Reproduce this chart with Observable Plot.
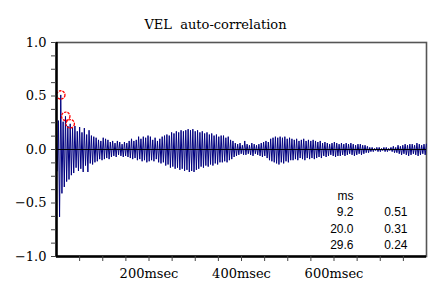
<!DOCTYPE html>
<html><head><meta charset="utf-8">
<script src="https://cdn.jsdelivr.net/npm/d3@7"></script>
<script src="https://cdn.jsdelivr.net/npm/@observablehq/plot@0.6"></script>
<style>
html,body{margin:0;padding:0;background:#fff;}
svg text{white-space:pre;}
</style></head><body><div id="chart"></div>
<script>
// Auto-correlation extrema: one trough and one peak per cycle
const troughs = [
  -0.20, -0.63, -0.41, -0.35, -0.30, -0.28, -0.24, -0.22, -0.17, -0.20,
  -0.18, -0.21, -0.15, -0.21, -0.13, -0.14, -0.12, -0.11, -0.09, -0.10,
  -0.09, -0.08, -0.09, -0.07, -0.06, -0.07, -0.05, -0.06, -0.07, -0.06,
  -0.07, -0.08, -0.09, -0.08, -0.10, -0.09, -0.11, -0.10, -0.12, -0.11,
  -0.10, -0.11, -0.09, -0.12, -0.13, -0.12, -0.15, -0.14, -0.17, -0.16,
  -0.18, -0.17, -0.19, -0.18, -0.20, -0.19, -0.21, -0.20, -0.21, -0.19,
  -0.18, -0.16, -0.17, -0.15, -0.16, -0.14, -0.15, -0.13, -0.14, -0.12,
  -0.12, -0.11, -0.12, -0.10, -0.09, -0.07, -0.06, -0.05, -0.04, -0.05,
  -0.05, -0.04, -0.05, -0.06, -0.04, -0.05, -0.06, -0.07, -0.06, -0.08,
  -0.10, -0.11, -0.12, -0.13, -0.14, -0.12, -0.13, -0.11, -0.12, -0.10,
  -0.10, -0.09, -0.10, -0.08, -0.09, -0.10, -0.08, -0.09, -0.08, -0.09,
  -0.08, -0.07, -0.08, -0.06, -0.07, -0.06, -0.05, -0.06, -0.07, -0.06,
  -0.06, -0.05, -0.06, -0.05, -0.04, -0.05, -0.06, -0.05, -0.04, -0.05,
  -0.04, -0.03, -0.03, -0.02, -0.02, -0.01, -0.02, -0.02, -0.01, -0.02,
  -0.02, -0.01, -0.02, -0.03, -0.03, -0.04, -0.05, -0.04, -0.05, -0.06,
  -0.05, -0.04, -0.05, -0.06, -0.05, -0.04, -0.05
];
const peaks = [
  0.27, 0.51, 0.26, 0.31, 0.22, 0.24, 0.20, 0.22, 0.17, 0.21,
  0.16, 0.20, 0.14, 0.18, 0.13, 0.12, 0.11, 0.09, 0.08, 0.11,
  0.10, 0.09, 0.07, 0.08, 0.06, 0.08, 0.07, 0.05, 0.07, 0.06,
  0.08, 0.10, 0.08, 0.09, 0.12, 0.10, 0.12, 0.11, 0.13, 0.12,
  0.09, 0.11, 0.08, 0.10, 0.12, 0.13, 0.14, 0.13, 0.16, 0.15,
  0.17, 0.16, 0.18, 0.17, 0.18, 0.19, 0.18, 0.19, 0.17, 0.18,
  0.16, 0.17, 0.15, 0.16, 0.14, 0.15, 0.13, 0.14, 0.12, 0.13,
  0.13, 0.11, 0.12, 0.09, 0.08, 0.06, 0.05, 0.06, 0.04, 0.08,
  0.05, 0.04, 0.06, 0.05, 0.04, 0.05, 0.06, 0.07, 0.08, 0.07,
  0.10, 0.11, 0.12, 0.11, 0.12, 0.11, 0.12, 0.10, 0.11, 0.10,
  0.09, 0.10, 0.08, 0.09, 0.10, 0.08, 0.09, 0.08, 0.09, 0.08,
  0.07, 0.08, 0.06, 0.07, 0.06, 0.05, 0.06, 0.07, 0.06, 0.05,
  0.06, 0.05, 0.06, 0.05, 0.06, 0.05, 0.04, 0.05, 0.05, 0.04,
  0.04, 0.03, 0.02, 0.02, 0.01, 0.02, 0.02, 0.01, 0.02, 0.02,
  0.01, 0.02, 0.03, 0.02, 0.04, 0.03, 0.04, 0.05, 0.04, 0.05,
  0.05, 0.04, 0.06, 0.05, 0.04, 0.05, 0.05
];
const cyclePeriodMs = 5.1;     // lag sampling of the extrema
const firstTroughMs = 1.55;

// Detected peaks (circled) and the table
const peakLags = [9.2, 20.0, 29.6];
const peakValues = [0.51, 0.31, 0.24];
const tableLagLabels = ["9.2", "20.0", "29.6"];
const tableValueLabels = ["0.51", "0.31", "0.24"];
const tableHeader = "ms";

// Axes
const yMajorTicks = [-1, -0.5, 0, 0.5, 1];
const yMinorTicks = [-0.875, -0.75, -0.625, -0.375, -0.25, -0.125, 0.125, 0.25, 0.375, 0.625, 0.75, 0.875];
const xMinorTicks = [50, 100, 150, 200, 250, 300, 350, 400, 450, 500, 550, 600, 650, 700, 750];
const xLabelTicks = [200, 400, 600];
const xUnit = "msec";
const title = "VEL  auto-correlation";

const series = troughs.flatMap((t, k) => [
  {lag: firstTroughMs + k * cyclePeriodMs, r: t},
  {lag: firstTroughMs + k * cyclePeriodMs + cyclePeriodMs / 2, r: peaks[k]}
]);
const peakRows = peakLags.map((lag, i) => ({lag, r: peakValues[i]}));

const serif = "DejaVu Serif";
const sans = "Liberation Sans";
const fmtY = d => (d < 0 ? "\u2212" : "") + Math.abs(d).toFixed(1);

const chart = Plot.plot({
  width: 434,
  height: 284,
  marginLeft: 56,
  marginRight: 8,
  marginTop: 42,
  marginBottom: 28,
  style: {background: "#fff", color: "#000", fontFamily: serif},
  x: {domain: [0, 800], axis: null},
  y: {domain: [-1, 1], axis: null},
  marks: [
    Plot.frame({stroke: "#555", strokeWidth: 1.6}),
    Plot.line(series, {x: "lag", y: "r", stroke: "#00007f", strokeWidth: 1}),
    Plot.ruleY([0], {stroke: "#000", strokeWidth: 1}),
    Plot.dot(peakRows, {x: "lag", y: "r", r: 4.2, stroke: "#ff0000", strokeWidth: 1.3, strokeDasharray: "2.5,1", fill: "none"}),
    Plot.ruleX([0], {stroke: "#000", strokeWidth: 2.5}),
    Plot.ruleY([-1], {stroke: "#000", strokeWidth: 2.5}),
    Plot.axisY(yMajorTicks, {tickSize: 5, tickPadding: 5, tickFormat: fmtY, fontSize: 13, fontFamily: serif, stroke: "#444", fill: "#000", label: null}),
    Plot.axisY(yMinorTicks, {tickSize: 5, tickFormat: () => "", stroke: "#444", label: null}),
    Plot.axisX(xMinorTicks, {tickSize: 5, tickFormat: () => "", stroke: "#444", label: null}),
    Plot.axisX(xLabelTicks, {tickSize: 0, tickPadding: 12, tickFormat: d => d + xUnit, fontSize: 13, fontFamily: serif, fill: "#000", label: null}),
    Plot.text([title], {frameAnchor: "top", dx: -26, dy: -14, lineAnchor: "bottom", fontSize: 13, fontFamily: serif, fill: "#000"}),
    Plot.text([tableHeader], {frameAnchor: "bottom-right", dx: -73, dy: -60, textAnchor: "end", lineAnchor: "middle", fontSize: 12, fontFamily: sans, fill: "#000"}),
    ...tableLagLabels.map((s, i) => Plot.text([s], {frameAnchor: "bottom-right", dx: -73, dy: -44 + i * 16.5, textAnchor: "end", lineAnchor: "middle", fontSize: 12, fontFamily: sans, fill: "#000"})),
    ...tableValueLabels.map((s, i) => Plot.text([s], {frameAnchor: "bottom-right", dx: -19, dy: -44 + i * 16.5, textAnchor: "end", lineAnchor: "middle", fontSize: 12, fontFamily: sans, fill: "#000"}))
  ]
});
document.getElementById("chart").append(chart);
</script></body></html>
